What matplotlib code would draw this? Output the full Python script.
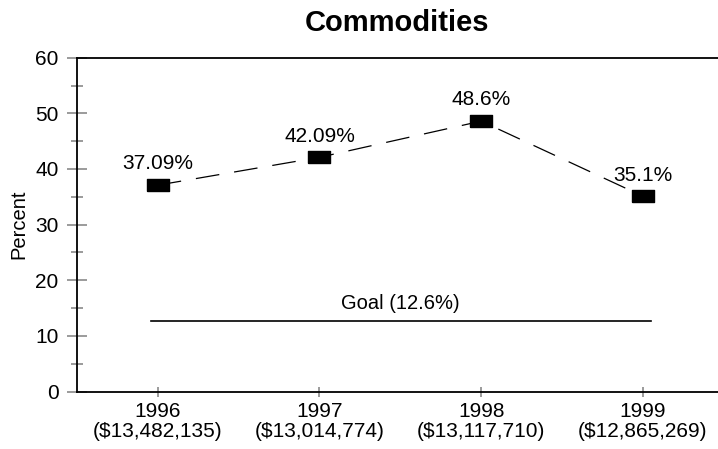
import matplotlib
matplotlib.use("Agg")
import matplotlib.pyplot as plt
from matplotlib.ticker import MultipleLocator

plt.rcParams['font.family'] = ['Liberation Sans', 'DejaVu Sans']

# data
years = ["1996", "1997", "1998", "1999"]
amounts = ["($13,482,135)", "($13,014,774)", "($13,117,710)", "($12,865,269)"]
percent = [37.09, 42.09, 48.6, 35.1]
point_labels = ["37.09%", "42.09%", "48.6%", "35.1%"]
goal = 12.6
goal_label = "Goal (12.6%)"

fig = plt.figure(figsize=(7.18, 4.49), dpi=100)
ax = fig.add_axes([0.107, 0.128, 0.893, 0.7435])

x = list(range(len(years)))

# goal line, a bit wider than the first/last year
ax.plot([x[0] - 0.04, x[-1] + 0.05], [goal, goal], color="black", lw=1.2)
ax.text((x[0] + x[-1]) / 2, goal + 1.5, goal_label, ha="center", va="bottom", fontsize=14.5)

rect = [(-2, -1), (2, -1), (2, 1), (-2, 1), (-2, -1)]
ax.plot(x, percent, color="black", lw=0.9, dashes=(19, 12),
        marker=rect, markersize=16, markerfacecolor="black", markeredgecolor="black")

for xi, p, lab in zip(x, percent, point_labels):
    ax.text(xi, p + 2.1, lab, ha="center", va="bottom", fontsize=15)

ax.set_xlim(-0.5, 3.464)
ax.set_ylim(0, 60)
ax.set_xticks(x)
ax.set_xticklabels([f"{y}\n{a}" for y, a in zip(years, amounts)], fontsize=15, linespacing=1.05)
ax.yaxis.set_major_locator(MultipleLocator(10))
ax.yaxis.set_minor_locator(MultipleLocator(5))
ax.tick_params(axis="both", which="both", direction="inout", color="#8a8a8a", width=1.2, labelsize=15)
ax.tick_params(axis="y", which="major", length=14.5, pad=6)
ax.tick_params(axis="y", which="minor", length=8.5)
ax.tick_params(axis="x", which="major", length=7.2, pad=4)
ax.set_ylabel("Percent", fontsize=14.5, labelpad=5)
ax.set_title("Commodities", fontsize=21, fontweight="bold", pad=19)

for side in ["left", "bottom", "top"]:
    ax.spines[side].set_linewidth(1.3)
ax.spines["right"].set_visible(False)

fig.savefig("out.png", dpi=100)
